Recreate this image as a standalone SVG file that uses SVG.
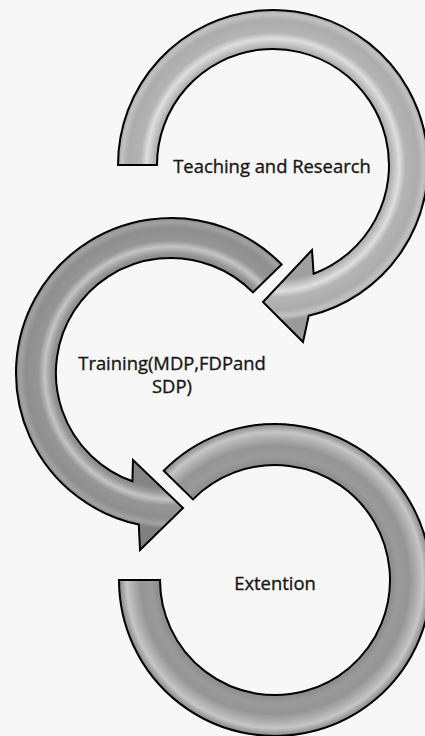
<svg xmlns="http://www.w3.org/2000/svg" width="425" height="736" viewBox="0 0 425 736">
  <style>
    .arrow { stroke: #000; stroke-width: 2; stroke-linejoin: miter; }
    .label { font-family: "Open Sans", "Noto Sans", "Liberation Sans", sans-serif; font-size: 18.4px; fill: #161616; stroke: #161616; stroke-width: 0.35; text-anchor: middle; }
  </style>
  <defs>
    <radialGradient id="tubeTop" gradientUnits="userSpaceOnUse" cx="273" cy="165" r="156">
      <stop offset="0" stop-color="#a4a4a4"/>
      <stop offset="0.737" stop-color="#a0a0a0"/>
      <stop offset="0.77" stop-color="#bdbdbd"/>
      <stop offset="0.81" stop-color="#dedede"/>
      <stop offset="0.85" stop-color="#b4b4b4"/>
      <stop offset="0.93" stop-color="#acacac"/>
      <stop offset="0.97" stop-color="#c2c2c2"/>
      <stop offset="1" stop-color="#9a9a9a"/>
    </radialGradient>
    <radialGradient id="tubeMid" gradientUnits="userSpaceOnUse" cx="171" cy="373" r="156">
      <stop offset="0" stop-color="#888"/>
      <stop offset="0.737" stop-color="#858585"/>
      <stop offset="0.77" stop-color="#9a9a9a"/>
      <stop offset="0.81" stop-color="#c4c4c4"/>
      <stop offset="0.85" stop-color="#969696"/>
      <stop offset="0.93" stop-color="#8e8e8e"/>
      <stop offset="0.97" stop-color="#a2a2a2"/>
      <stop offset="1" stop-color="#808080"/>
    </radialGradient>
    <radialGradient id="tubeBot" gradientUnits="userSpaceOnUse" cx="275" cy="580" r="156">
      <stop offset="0" stop-color="#8e8e8e"/>
      <stop offset="0.737" stop-color="#8a8a8a"/>
      <stop offset="0.79" stop-color="#9a9a9a"/>
      <stop offset="0.86" stop-color="#959595"/>
      <stop offset="0.92" stop-color="#b4b4b4"/>
      <stop offset="0.95" stop-color="#c6c6c6"/>
      <stop offset="1" stop-color="#858585"/>
    </radialGradient>
  </defs>
  <rect x="0" y="0" width="425" height="736" fill="#f6f7f6"/>

  <g id="node-teaching">
    <path class="arrow" fill="url(#tubeTop)" d="M118,165 A155,155 0 1 1 308.7,315.8 L303,342 L263,302 L312,250 L313.6,273.7 A116,116 0 1 0 157,165 Z"/>
    <text class="label" x="272" y="173">Teaching and Research</text>
  </g>

  <g id="node-training">
    <path class="arrow" fill="url(#tubeMid)" d="M281.6,264.4 A155,155 0 1 0 138.8,524.6 L140,550 L183,508 L133,460 L132.4,481.3 A115,115 0 1 1 253,292.4 Z"/>
    <text class="label" x="172" y="370">Training(MDP,FDPand</text>
    <text class="label" x="172" y="393">SDP)</text>
  </g>

  <g id="node-extention">
    <path class="arrow" fill="url(#tubeBot)" d="M119,580 A156,156 0 1 0 163.7,470.7 L193,499.4 A115,115 0 1 1 160,580 Z"/>
    <text class="label" x="275" y="590">Extention</text>
  </g>

  <g id="connectors"/>
</svg>
